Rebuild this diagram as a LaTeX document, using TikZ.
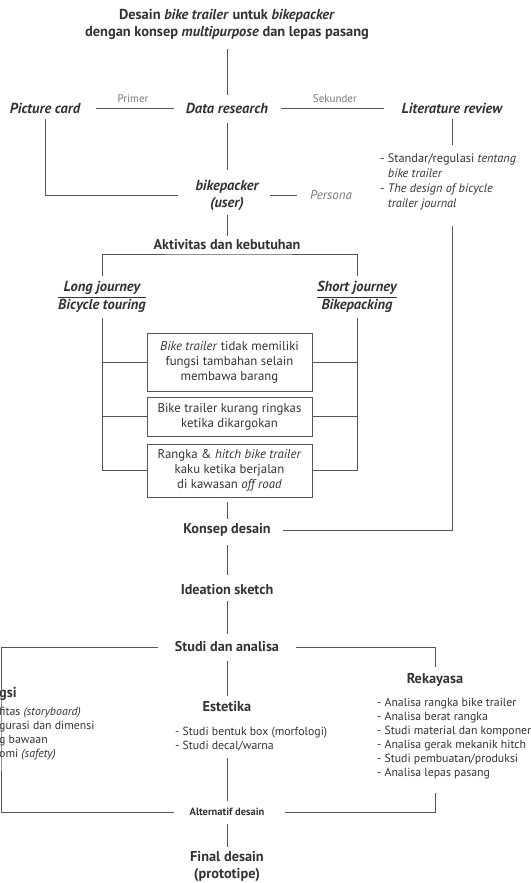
\documentclass[tikz,border=0pt]{standalone}
\usepackage{fontspec}
\setmainfont{PT Sans}
\usetikzlibrary{calc}
\definecolor{txt}{HTML}{333333}
\definecolor{ln}{HTML}{555555}
\definecolor{lbl}{HTML}{7A7A7A}
\setlength\arrayrulewidth{0.9pt}
\begin{document}
\begin{tikzpicture}[x=1pt,y=-1pt,
  every node/.style={inner sep=0pt, text=txt},
  conn/.style={draw=ln, line width=0.9pt},
  head/.style={font=\fontsize{14.2}{17}\selectfont\bfseries, align=center},
  headit/.style={font=\fontsize{14.5}{17}\selectfont\bfseries\itshape, align=center},
  lab/.style={font=\fontsize{11}{12}\selectfont, text=lbl},
  item/.style={font=\fontsize{11.8}{14}\selectfont, align=left, anchor=north west},
  need/.style={draw=ln, line width=0.9pt, minimum width=165pt, align=center, font=\fontsize{12.8}{15}\selectfont}]
\useasboundingbox (0,0) rectangle (530,883);

% top
\node[head, font=\fontsize{14.4}{17}\selectfont\bfseries] (title) at (227,24) {Desain \textit{bike trailer} untuk \textit{bikepacker}\\dengan konsep \textit{multipurpose} dan lepas pasang};
\node[headit] (data) at (227,108) {Data research};
\node[headit] (pic) at (45,108) {Picture card};
\node[headit] (lit) at (452,108) {Literature review};
\node[headit] (user) at (227,195) {bikepacker\\(user)};
\node[lab, font=\fontsize{13}{14}\selectfont\itshape] (persona) at (331,195) {Persona};
\node[item, font=\fontsize{12.3}{15}\selectfont] (litlist) at (380,154) {- Standar/regulasi \textit{tentang}\\\hphantom{- }\textit{bike trailer}\\- \textit{The design of bicycle}\\\hphantom{- }\textit{trailer journal}};

\draw[conn, shorten <=10, shorten >=8] (title) -- (data);
\draw[conn, shorten <=16, shorten >=12] (pic) -- (data) node[midway, above=5pt, lab] {Primer};
\draw[conn, shorten <=13, shorten >=18] (data) -- (lit) node[midway, above=5pt, lab] {Sekunder};
\draw[conn, shorten <=10, shorten >=10] (data) -- (user);
\draw[conn, shorten <=6, shorten >=17] (pic.south) |- (user.west);
\draw[conn, shorten <=11, shorten >=13] (user) -- (persona);
\draw[conn, shorten <=6, shorten >=9] (lit.south) -- (lit.south |- litlist.north);

% activities
\node[head] (aktiv) at (227,245) {Aktivitas dan kebutuhan};
\coordinate (br) at (227,254);
\node[headit] (long) at (102,297) {\begin{tabular}{@{}c@{}}Long journey\\\hline Bicycle touring\end{tabular}};
\node[headit] (short) at (357,297) {\begin{tabular}{@{}c@{}}Short journey\\\hline Bikepacking\end{tabular}};
\draw[conn, shorten <=5, shorten >=4] (user) -- (aktiv);
\draw[conn, shorten <=3, shorten >=3] (long.north) |- (br) -| (short.north);

\node[need, minimum height=58pt] (box1) at (229.5,362) {\textit{Bike trailer} tidak memiliki\\fungsi tambahan selain\\membawa barang};
\node[need, minimum height=39pt] (box2) at (229.5,416.5) {Bike trailer kurang ringkas\\ketika dikargokan};
\node[need, minimum height=53pt] (box3) at (229.5,470.5) {Rangka \& \textit{hitch bike trailer}\\kaku ketika berjalan\\di kawasan \textit{off road}};

\draw[conn, shorten <=3] (long.south) |- (box3.west);
\draw[conn] (box1.west) -- (box1.west -| long.south);
\draw[conn] (box2.west) -- (box2.west -| long.south);
\draw[conn, shorten <=3] (short.south) |- (box3.east);
\draw[conn] (box1.east) -- (box1.east -| short.south);
\draw[conn] (box2.east) -- (box2.east -| short.south);

% middle chain
\node[head] (konsep) at (227,530) {Konsep desain};
\node[head] (ideation) at (227,590) {Ideation sketch};
\node[head] (studi) at (227,647) {Studi dan analisa};
\draw[conn, shorten <=5, shorten >=4] (box3.south -| konsep) -- (konsep);
\draw[conn, shorten <=15, shorten >=12] (lit.south |- litlist.south) |- (konsep.east);
\draw[conn, shorten <=8, shorten >=10] (konsep) -- (ideation);
\draw[conn, shorten <=6, shorten >=8] (ideation) -- (studi);

% studies
\node[head, font=\fontsize{14.3}{15}\selectfont\bfseries] (rek) at (435,680) {Rekayasa};
\node[head, font=\fontsize{14.3}{15}\selectfont\bfseries] (est) at (227,707) {Estetika};
\node[head, font=\fontsize{14.3}{15}\selectfont\bfseries, anchor=west] (fung) at (-1,694) {gsi};
\node[item] (reklist) at (377,698) {- Analisa rangka bike trailer\\- Analisa berat rangka\\- Studi material dan komponen\\- Analisa gerak mekanik hitch\\- Studi pembuatan/produksi\\- Analisa lepas pasang};
\node[item] (estlist) at (175,727) {- Studi bentuk box (morfologi)\\- Studi decal/warna};
\node[item] (funglist) at (-1,707) {fitas \textit{(storyboard)}\\gurasi dan dimensi\\g bawaan\\omi \textit{(safety)}};

\node[head, font=\fontsize{10.5}{12}\selectfont\bfseries] (alt) at (227,812) {Alternatif desain};
\node[head, font=\fontsize{14.3}{17}\selectfont\bfseries] (final) at (227,866) {Final desain\\(prototipe)};
\coordinate (lft) at (1,730);

\draw[conn, shorten <=9, shorten >=6] (studi) -- (est);
\draw[conn, shorten <=17, shorten >=6] (studi.east) -| (rek.north);
\draw[conn, shorten <=17, shorten >=15] (studi.west) -| (lft) |- (alt.west);
\draw[conn, shorten <=7, shorten >=7] (estlist.south -| est) -- (alt.north);
\draw[conn, shorten <=14, shorten >=20] (reklist.south -| rek) |- (alt.east);
\draw[conn, shorten <=8, shorten >=4] (alt) -- (final);
\end{tikzpicture}
\end{document}
